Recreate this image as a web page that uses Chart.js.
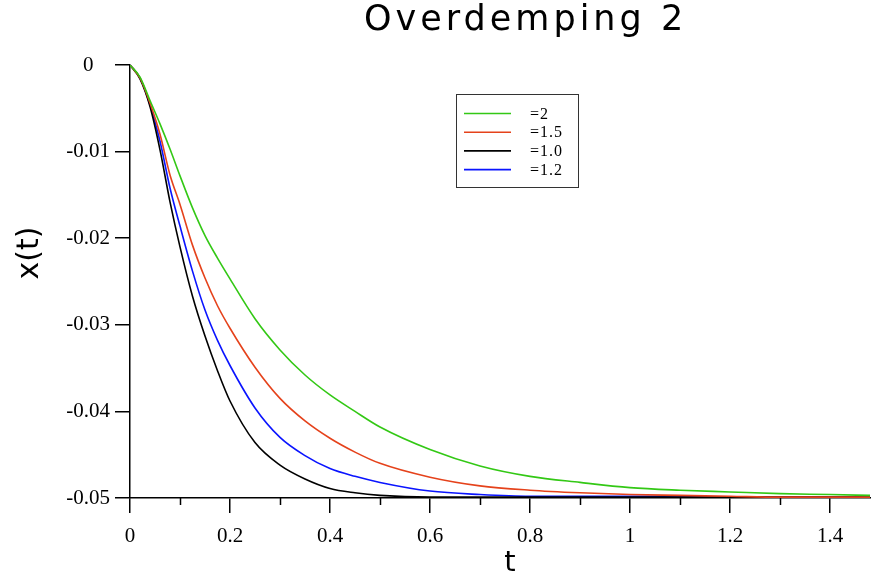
<!DOCTYPE html>
<html>
<head>
<meta charset="utf-8">
<script src="https://cdn.jsdelivr.net/npm/chart.js@4.4.1/dist/chart.umd.min.js"></script>
<style>
  html, body { margin: 0; padding: 0; background: #fff; }
  #wrap { width: 871px; height: 575px; }
</style>
</head>
<body>
<div id="wrap"><canvas id="chart" width="871" height="575"></canvas></div>
<script>
// time points (t) shared by all curves
const tValues = [0, 0.02, 0.04, 0.06, 0.08, 0.1, 0.125, 0.15, 0.175, 0.2, 0.25, 0.3, 0.35, 0.4, 0.45, 0.5, 0.6, 0.7, 0.8, 0.9, 1.0, 1.1, 1.2, 1.3, 1.4, 1.48];

const seriesLabels = ['=2', '=1.5', '=1.0', '=1.2'];
const seriesColors = ['#33c815', '#e5421b', '#000000', '#0a14ff'];

const xZeta2  = [0, -0.0014, -0.0041, -0.0068, -0.0097, -0.0128, -0.0165, -0.0197, -0.0223, -0.0247, -0.0293, -0.0329, -0.0358, -0.0381, -0.0400, -0.0418, -0.0444, -0.0463, -0.0475, -0.0482, -0.0488, -0.0491, -0.0493, -0.0495, -0.0496, -0.0497];
const xZeta15 = [0, -0.0015, -0.0044, -0.0080, -0.0127, -0.0161, -0.0208, -0.0246, -0.0278, -0.0304, -0.0349, -0.0385, -0.0411, -0.0431, -0.0447, -0.0460, -0.0476, -0.0486, -0.0491, -0.0494, -0.0496, -0.0497, -0.0498, -0.0499, -0.0499, -0.0499];
const xZeta10 = [0, -0.0016, -0.0048, -0.0098, -0.0158, -0.0210, -0.0267, -0.0313, -0.0353, -0.0388, -0.0436, -0.0462, -0.0478, -0.0489, -0.0494, -0.0497, -0.0499, -0.0499, -0.0499, -0.0499, -0.0499, -0.0499, -0.0499, -0.0499, -0.0499, -0.0499];
const xZeta12 = [0, -0.0015, -0.0046, -0.0088, -0.0142, -0.0186, -0.0238, -0.0283, -0.0318, -0.0347, -0.0396, -0.0430, -0.0451, -0.0466, -0.0475, -0.0482, -0.0492, -0.0496, -0.0498, -0.0498, -0.0498, -0.0498, -0.0499, -0.0499, -0.0499, -0.0499];

const xTickValues = [0, 0.2, 0.4, 0.6, 0.8, 1, 1.2, 1.4];
const xMinorTicks = [0.1, 0.3, 0.5, 0.7, 0.9, 1.1, 1.3];
const yTickValues = [0, -0.01, -0.02, -0.03, -0.04, -0.05];

function toPoints(ys) {
  return tValues.map((t, i) => ({ x: t, y: ys[i] }));
}

const allSeries = [xZeta2, xZeta15, xZeta10, xZeta12];

const datasets = allSeries.map((ys, i) => ({
  label: seriesLabels[i],
  data: toPoints(ys),
  borderColor: seriesColors[i],
  backgroundColor: seriesColors[i],
  borderWidth: 1.6,
  pointRadius: 0,
  fill: false,
  cubicInterpolationMode: 'monotone'
}));

// minor ticks, titles and the boxed legend
const decorations = {
  id: 'decorations',
  afterDraw(chart) {
    const ctx = chart.ctx;
    const xs = chart.scales.x;
    const area = chart.chartArea;
    ctx.save();

    ctx.strokeStyle = '#000';
    ctx.lineWidth = 1.5;
    xMinorTicks.forEach(v => {
      const px = Math.round(xs.getPixelForValue(v)) + 0.5;
      ctx.beginPath();
      ctx.moveTo(px, area.bottom);
      ctx.lineTo(px, area.bottom + 7);
      ctx.stroke();
    });

    ctx.fillStyle = '#000';
    ctx.textAlign = 'left';
    ctx.textBaseline = 'alphabetic';
    ctx.font = '35px "DejaVu Sans"';
    ctx.letterSpacing = '4px';
    ctx.fillText('Overdemping 2', 364, 30);
    ctx.letterSpacing = '0px';

    ctx.font = '29px "DejaVu Sans"';
    ctx.textAlign = 'center';
    ctx.fillText('t', 510, 571);

    ctx.save();
    ctx.translate(38, 253);
    ctx.rotate(-Math.PI / 2);
    ctx.font = '30px "DejaVu Sans"';
    ctx.fillText('x(t)', 0, 0);
    ctx.restore();

    // legend
    ctx.strokeStyle = '#333';
    ctx.lineWidth = 1;
    ctx.strokeRect(456.5, 94.5, 122, 93);
    ctx.font = '16px "Liberation Serif"';
    ctx.textAlign = 'left';
    ctx.textBaseline = 'middle';
    chart.data.datasets.forEach((ds, i) => {
      const y = 113.5 + i * 18.7;
      ctx.strokeStyle = ds.borderColor;
      ctx.lineWidth = 1.6;
      ctx.beginPath();
      ctx.moveTo(464, y);
      ctx.lineTo(511, y);
      ctx.stroke();
      ctx.fillStyle = '#000';
      ctx.letterSpacing = '1px';
      ctx.fillText(ds.label, 530, y + 1);
      ctx.letterSpacing = '0px';
    });

    ctx.restore();
  }
};

new Chart(document.getElementById('chart').getContext('2d'), {
  type: 'line',
  data: { datasets: datasets },
  plugins: [decorations],
  options: {
    responsive: false,
    animation: false,
    layout: { padding: { top: 65, left: 0, right: 0, bottom: 0 } },
    plugins: {
      legend: { display: false },
      title: { display: false },
      tooltip: { enabled: false }
    },
    scales: {
      x: {
        type: 'linear',
        min: 0,
        max: 1.482,
        afterBuildTicks: s => { s.ticks = xTickValues.map(v => ({ value: v })); },
        afterFit: s => { s.height = 77; },
        grid: { drawOnChartArea: false, drawTicks: true, tickLength: 15, color: '#000', lineWidth: 1.5 },
        border: { display: true, color: '#000', width: 1.5 },
        ticks: {
          color: '#000',
          padding: 11,
          maxRotation: 0,
          font: { family: 'Liberation Serif', size: 21 },
          callback: v => String(Number(v.toFixed(1)))
        }
      },
      y: {
        type: 'linear',
        min: -0.05,
        max: 0,
        afterBuildTicks: s => { s.ticks = yTickValues.map(v => ({ value: v })); },
        afterFit: s => { s.width = 130; },
        grid: { drawOnChartArea: false, drawTicks: true, tickLength: 15, color: '#000', lineWidth: 1.5 },
        border: { display: true, color: '#000', width: 1.5 },
        ticks: {
          color: '#000',
          padding: 5,
          crossAlign: 'center',
          font: { family: 'Liberation Serif', size: 21 },
          callback: v => (v === 0 ? '0' : v.toFixed(2))
        }
      }
    }
  }
});
</script>
</body>
</html>
